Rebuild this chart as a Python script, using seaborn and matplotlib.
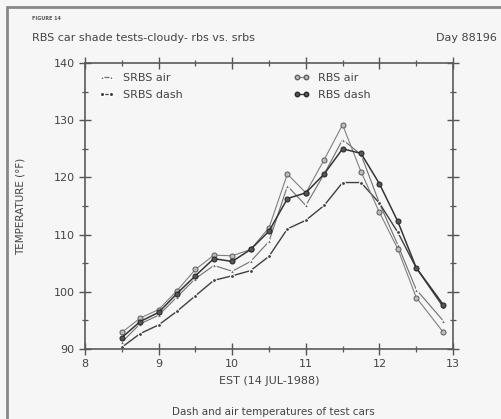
import matplotlib
matplotlib.use("Agg")
import matplotlib.pyplot as plt
import seaborn as sns
import pandas as pd
from matplotlib.lines import Line2D
from matplotlib.ticker import MultipleLocator

# ---- data ----
times = [8.5, 8.75, 9.0, 9.25, 9.5, 9.75, 10.0, 10.25, 10.5, 10.75,
         11.0, 11.25, 11.5, 11.75, 12.0, 12.25, 12.5, 12.87]
srbs_air = [91.2, 94.4, 95.9, 99.1, 102.3, 104.6, 103.6, 105.3, 108.8, 118.5,
            115.1, 120.6, 126.6, 124.0, 115.5, 108.2, 100.4, 94.9]
srbs_dash = [90.3, 92.7, 94.2, 96.6, 99.3, 102.0, 102.8, 103.7, 106.2, 111.0,
             112.5, 115.1, 119.1, 119.1, 115.5, 110.4, 104.2, 97.3]
rbs_air = [92.9, 95.4, 96.9, 100.2, 103.9, 106.4, 106.3, 107.4, 111.2, 120.6,
           117.3, 123.1, 129.2, 121.0, 113.9, 107.5, 99.0, 92.9]
rbs_dash = [92.0, 94.8, 96.4, 99.7, 102.8, 105.8, 105.3, 107.4, 110.6, 116.3,
            117.3, 120.6, 125.0, 124.2, 118.9, 112.3, 104.2, 97.7]
series_names = ["SRBS air", "SRBS dash", "RBS air", "RBS dash"]
x_ticks = [8, 9, 10, 11, 12, 13]
y_ticks = [90, 100, 110, 120, 130, 140]

rows = []
for name, vals in zip(series_names, [srbs_air, srbs_dash, rbs_air, rbs_dash]):
    for t, v in zip(times, vals):
        rows.append({"time": t, "temp": v, "series": name})
df = pd.DataFrame(rows)

sns.set_theme(style="ticks")
plt.rcParams["font.family"] = ["DejaVu Sans"]

bg = "#f6f6f6"
fig = plt.figure(figsize=(5.01, 4.19), dpi=100, facecolor=bg)
ax = fig.add_axes([85 / 501, 1 - 349 / 419, (453 - 85) / 501, (349 - 63) / 419])
ax.set_facecolor(bg)

palette = {"SRBS air": "#707070", "SRBS dash": "#404040",
           "RBS air": "#808080", "RBS dash": "#353535"}
markers = {"SRBS air": "^", "SRBS dash": "o", "RBS air": "o", "RBS dash": "o"}

sns.lineplot(data=df, x="time", y="temp", hue="series", style="series",
             hue_order=series_names, style_order=series_names,
             palette=palette, markers=markers, dashes=False,
             markersize=3, linewidth=0.8, ax=ax, legend=False)

# marker face styles
for line, name in zip(ax.get_lines(), series_names):
    if name == "RBS air":
        line.set_markerfacecolor("#bdbdbd")
        line.set_markeredgecolor("#606060")
        line.set_markersize(3.6)
    elif name == "RBS dash":
        line.set_markerfacecolor("#555555")
        line.set_markeredgecolor("#2a2a2a")
        line.set_markersize(3.6)
        line.set_linewidth(1.1)
    elif name == "SRBS dash":
        line.set_markersize(2.8)
        line.set_linewidth(1.0)
    else:
        line.set_markersize(3.2)

ax.set_xlim(8, 13)
ax.set_ylim(90, 140)
ax.set_xticks(x_ticks)
ax.set_yticks(y_ticks)
ax.xaxis.set_minor_locator(MultipleLocator(0.5))
ax.yaxis.set_minor_locator(MultipleLocator(5))
ax.tick_params(which="major", direction="inout", length=8, width=1,
               colors="#555555", labelsize=8, labelcolor="#444444",
               top=True, right=True)
ax.tick_params(which="minor", direction="inout", length=4, width=0.9,
               colors="#555555", top=True, right=True)
for s in ax.spines.values():
    s.set_color("#5a5a5a")
    s.set_linewidth(1.2)

ax.set_xlabel("EST (14 JUL-1988)", fontsize=8, color="#444444", labelpad=5)
ax.set_ylabel("TEMPERATURE (°F)", fontsize=7.5, color="#444444", labelpad=20)

# legend
handles = []
for name in series_names:
    l = [ln for ln, n in zip(ax.get_lines(), series_names) if n == name][0]
    handles.append(Line2D([0], [0], color=l.get_color(), marker=l.get_marker(),
                          markersize=3.2, markerfacecolor=l.get_markerfacecolor(),
                          markeredgecolor=l.get_markeredgecolor(), linewidth=0.9))
leg = ax.legend(handles, series_names, ncol=2, frameon=False, numpoints=2,
                handlelength=1.4, handletextpad=0.8, columnspacing=10,
                fontsize=8, loc="upper left", bbox_to_anchor=(0.01, 1.0),
                labelspacing=0.6)
for t in leg.get_texts():
    t.set_color("#444444")

# header / caption texts
fig.text(32 / 501, 1 - 18 / 419, "FIGURE 14", fontsize=3.5, color="#555555",
         va="center", ha="left", weight="bold")
fig.text(32 / 501, 1 - 38 / 419, "RBS car shade tests-cloudy- rbs vs. srbs",
         fontsize=8, color="#444444", va="center", ha="left")
fig.text(497 / 501, 1 - 38 / 419, "Day 88196", fontsize=8, color="#444444",
         va="center", ha="right")
fig.text(273 / 501, 1 - 412 / 419, "Dash and air temperatures of test cars",
         fontsize=7.5, color="#444444", va="center", ha="center")

# scanned page border
fig.add_artist(Line2D([7 / 501, 7 / 501], [0, 1 - 7 / 419],
                      transform=fig.transFigure, color="#888888", lw=2))
fig.add_artist(Line2D([7 / 501, 1], [1 - 7 / 419, 1 - 7 / 419],
                      transform=fig.transFigure, color="#888888", lw=2))

fig.savefig("out.png", dpi=100, facecolor=bg)
